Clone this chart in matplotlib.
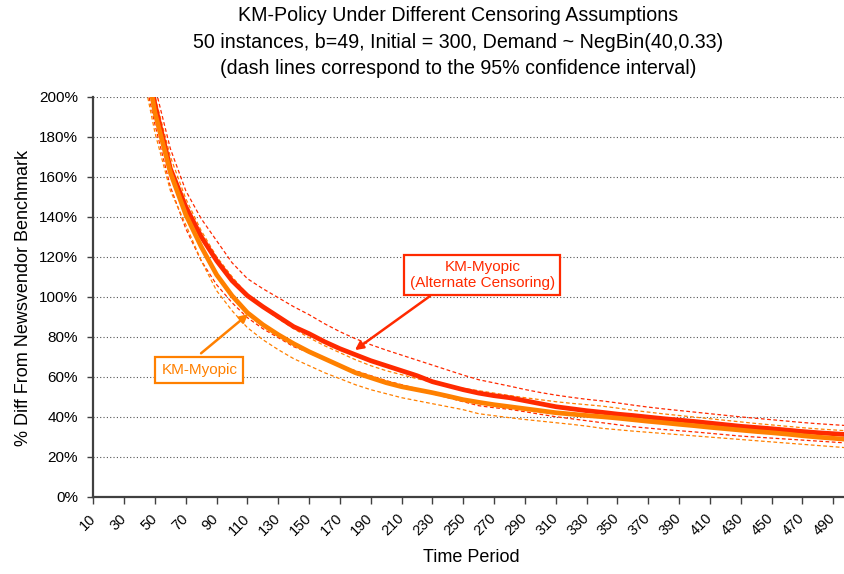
import numpy as np
import matplotlib
matplotlib.use('Agg')
import matplotlib.pyplot as plt
from matplotlib.ticker import FuncFormatter

plt.rcParams['font.family'] = ['Liberation Sans', 'DejaVu Sans']

# ---------- data ----------

periods = list(range(10, 510, 10))

# KM-Myopic (alternate censoring), % diff from newsvendor benchmark
alt_main = [700, 440, 310, 240, 196, 164, 145, 130, 118, 108,
            100.5, 95, 90, 85, 81.5, 77.5, 74, 71, 68, 65.5,
            63, 60.5, 57.5, 55.5, 53.5, 51.8, 50.5, 49.5, 48, 46.5,
            45, 44, 43, 42.2, 41.3, 40.6, 39.8, 39, 38.3, 37.6,
            36.8, 36, 35.2, 34.6, 34, 33.3, 32.6, 32, 31.5, 31]
alt_hi = [780, 490, 345, 262, 205, 174, 153, 139, 128, 117,
          109, 104, 99.5, 95, 91, 86.5, 82.5, 79, 76, 73.3,
          70.8, 68.3, 65.8, 63.3, 60.8, 58.5, 56.9, 55.3, 53.6, 52.1,
          50.8, 49.7, 48.7, 47.9, 46.9, 45.8, 44.8, 43.9, 43.1, 42.3,
          41.5, 40.7, 39.9, 39.2, 38.5, 37.8, 37.1, 36.5, 36, 35.5]
alt_lo = [620, 390, 275, 222, 186, 155, 134, 118, 106, 97,
          89.5, 84, 79.5, 75, 72, 68.5, 65.5, 63, 60.5, 58,
          56, 54, 51.5, 49.5, 47.5, 45.5, 44.5, 43.7, 42.5, 41.2,
          40, 39, 38, 37, 36, 35, 34.3, 33.6, 33, 32.4,
          31.7, 31, 30.3, 29.8, 29.3, 28.8, 28.3, 27.8, 27.3, 26.8]

# KM-Myopic
km_main = [680, 430, 305, 236, 192, 162, 141, 125, 111, 100.5,
           92, 86, 81, 76.5, 72.5, 69, 65.5, 62, 59.5, 57,
           55, 53.5, 52, 50.3, 48.5, 47.2, 46, 45, 44, 43,
           42, 41.3, 40.6, 40, 39.3, 38.5, 37.7, 37, 36.2, 35.5,
           34.7, 34, 33.3, 32.6, 32, 31.3, 30.5, 29.8, 29.2, 28.6]
km_hi = [760, 470, 330, 246, 200, 170, 149, 133, 120, 110,
         101, 94.5, 89, 84, 79.5, 75.5, 72, 68.5, 65.5, 63,
         61, 59, 57.3, 55.7, 54.2, 53, 51.8, 50.6, 49.5, 48.5,
         47.5, 46.7, 46, 45.3, 44.3, 43.2, 42.3, 41.4, 40.6, 39.8,
         39, 38.2, 37.4, 36.6, 35.9, 35.2, 34.5, 33.9, 33.4, 32.9]
km_lo = [600, 380, 270, 220, 182, 153, 136, 118, 103, 93,
         84.5, 78.5, 73.5, 69, 65.5, 62, 59, 56, 53.5, 51.5,
         49.5, 48, 46.5, 45, 43.5, 41.5, 40.5, 39.5, 38.6, 37.8,
         37, 36.2, 35.3, 34.2, 33.5, 32.8, 32.2, 31.6, 31, 30.4,
         29.8, 29.2, 28.6, 28, 27.4, 26.8, 26.2, 25.6, 25, 24.4]

tick_periods = list(range(10, 500, 20))
y_ticks = list(range(0, 201, 20))

RED = '#FF2A00'
ORANGE = '#FF8000'
AXIS = '#404040'

# ---------- plot ----------

fig = plt.figure(figsize=(8.44, 5.74), dpi=100)
ax = fig.add_axes([93.3 / 844, 1 - 496.7 / 574, 1 - 93.3 / 844, (496.7 - 96.7) / 574])

dash = (0, (3, 2))
ax.plot(periods, alt_hi, color=RED, lw=0.9, linestyle=dash)
ax.plot(periods, alt_lo, color=RED, lw=0.9, linestyle=dash)
ax.plot(periods, km_hi, color=ORANGE, lw=0.9, linestyle=dash)
ax.plot(periods, km_lo, color=ORANGE, lw=0.9, linestyle=dash)
ax.plot(periods, alt_main, color=RED, lw=3.4, solid_joinstyle='round')
ax.plot(periods, km_main, color=ORANGE, lw=3.4, solid_joinstyle='round')

ax.set_xlim(10, 497)
ax.set_ylim(0, 200)
ax.set_xticks(tick_periods)
ax.set_xticklabels([str(t) for t in tick_periods], rotation=45, ha='right',
                   va='center', rotation_mode='anchor', fontsize=10.5)
ax.set_yticks(y_ticks)
ax.yaxis.set_major_formatter(FuncFormatter(lambda v, p: f'{v:.0f}%'))
ax.tick_params(axis='y', labelsize=11, length=4, width=1, color=AXIS, pad=7)
ax.tick_params(axis='x', length=5, width=1, color=AXIS, pad=9)

ax.grid(axis='y', color='#555555', linestyle=(0, (1, 2)), linewidth=0.8)
ax.set_axisbelow(True)
for s in ['top', 'right']:
    ax.spines[s].set_visible(False)
for s in ['left', 'bottom']:
    ax.spines[s].set_color(AXIS)
    ax.spines[s].set_linewidth(1.6)

# callouts
ax.annotate('', xy=(179.7, 73.3), xytext=(228.4, 100.3),
            arrowprops=dict(arrowstyle='-|>', color=RED, lw=1.8, mutation_scale=12,
                            shrinkA=0, shrinkB=0))
ax.text(262.4, 111, 'KM-Myopic\n(Alternate Censoring)', color=RED, fontsize=11,
        ha='center', va='center', linespacing=1.15,
        bbox=dict(boxstyle='square,pad=0.35', fc='white', ec=RED, lw=1.6))
ax.annotate('', xy=(110.5, 91.3), xytext=(79.9, 71.7),
            arrowprops=dict(arrowstyle='-|>', color=ORANGE, lw=1.8, mutation_scale=12,
                            shrinkA=0, shrinkB=0))
ax.text(78.8, 63.4, 'KM-Myopic', color=ORANGE, fontsize=11,
        ha='center', va='center',
        bbox=dict(boxstyle='square,pad=0.4', fc='white', ec=ORANGE, lw=1.6))

fig.text(458 / 844, 1 - 42 / 574,
         'KM-Policy Under Different Censoring Assumptions\n'
         '50 instances, b=49, Initial = 300, Demand ~ NegBin(40,0.33)\n'
         '(dash lines correspond to the 95% confidence interval)',
         ha='center', va='center', fontsize=14.1, linespacing=1.5)
fig.text(471 / 844, 1 - 557 / 574, 'Time Period', ha='center', va='center', fontsize=13)
fig.text(24 / 844, 1 - 298 / 574, '% Diff From Newsvendor Benchmark', rotation=90,
         ha='center', va='center', fontsize=13)

fig.savefig('out.png', dpi=100)
